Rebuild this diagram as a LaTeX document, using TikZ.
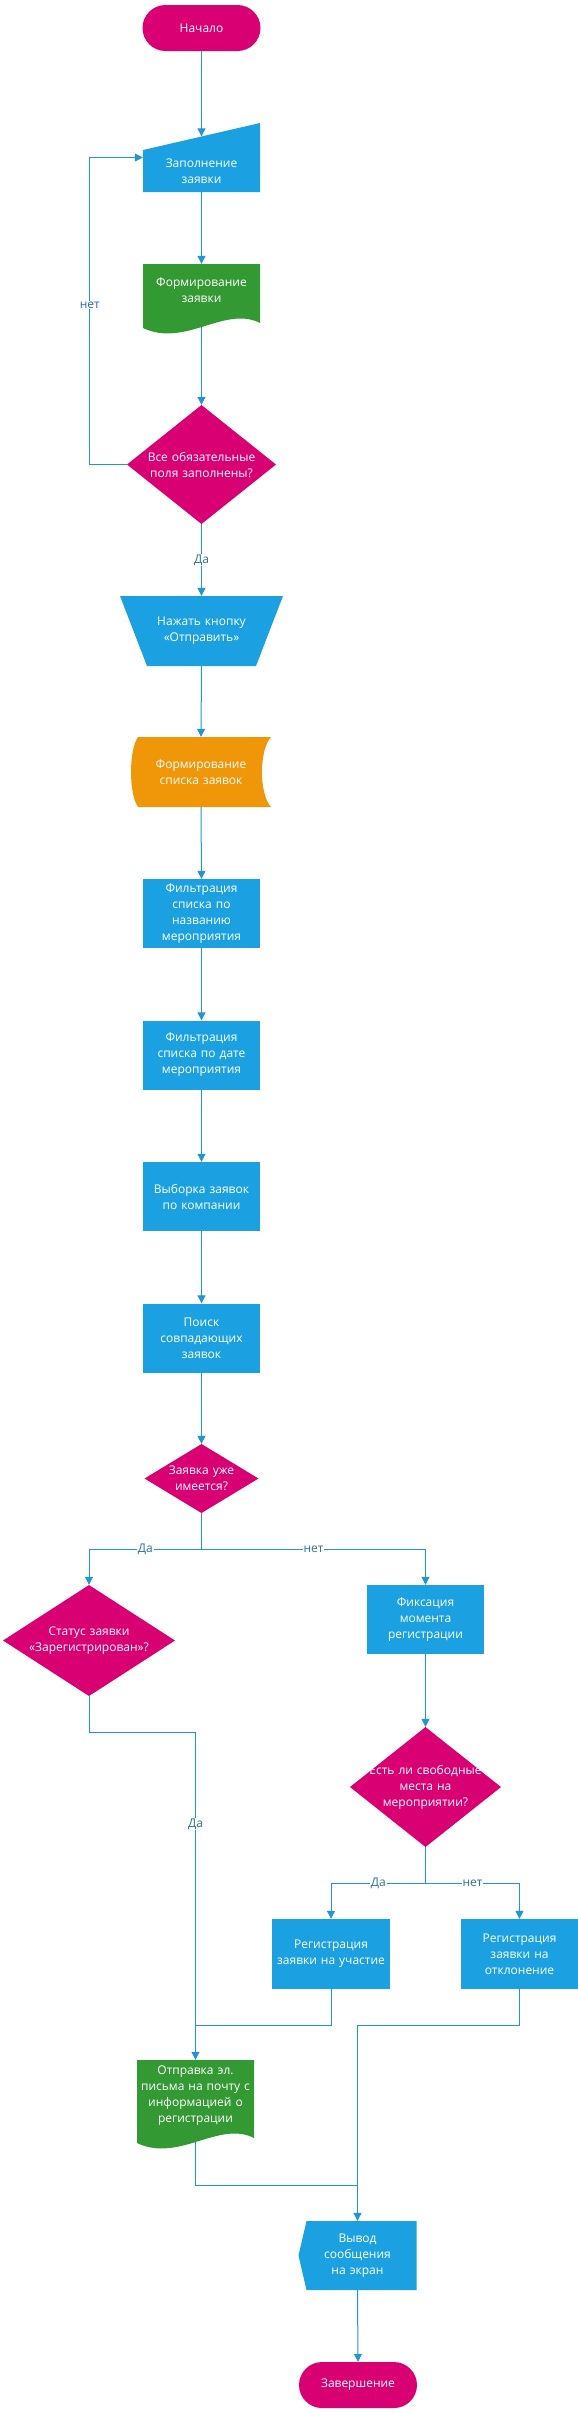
\documentclass[tikz,border=0pt]{standalone}
\usepackage{fontspec}
\setmainfont{Open Sans}
\usetikzlibrary{arrows.meta,calc}

\definecolor{cmag}{HTML}{D80073}
\definecolor{cblue}{HTML}{1BA1E2}
\definecolor{cgreen}{HTML}{339933}
\definecolor{corange}{HTML}{F09609}
\definecolor{cline}{HTML}{2196D3}
\definecolor{clabel}{HTML}{2C6FA8}

\tikzset{
  base/.style={rectangle, inner sep=0pt, text=white, align=center, font=\fontsize{12}{16}\selectfont},
  terminal/.style={base, fill=cmag, rounded corners=23pt, minimum width=118pt, minimum height=46pt, text width=118pt},
  proc/.style={base, fill=cblue, minimum width=117pt, minimum height=69pt, text width=117pt},
  decision/.style 2 args={base, minimum width=#1, minimum height=#2, text width=#1,
    path picture={\fill[cmag] (path picture bounding box.north) -- (path picture bounding box.east)
      -- (path picture bounding box.south) -- (path picture bounding box.west) -- cycle;}},
  manin/.style={base, minimum width=117pt, minimum height=69pt, text width=117pt,
    execute at begin node={\mbox{}\\[20pt]},
    path picture={\fill[cblue] (path picture bounding box.south west) -- (path picture bounding box.south east)
      -- (path picture bounding box.north east) -- ($(path picture bounding box.north west)+(0,27)$) -- cycle;}},
  manop/.style={base, minimum width=163pt, minimum height=70pt, text width=163pt,
    path picture={\fill[cblue] (path picture bounding box.north west) -- (path picture bounding box.north east)
      -- ($(path picture bounding box.south east)+(-27,0)$) -- ($(path picture bounding box.south west)+(27,0)$) -- cycle;}},
  stored/.style={base, minimum width=140pt, minimum height=70pt, text width=140pt,
    path picture={\fill[corange] ($(path picture bounding box.north west)+(7,0)$) -- (path picture bounding box.north east)
      .. controls ($(path picture bounding box.north east)+(-12,13)$) and ($(path picture bounding box.south east)+(-12,-13)$) .. (path picture bounding box.south east)
      -- ($(path picture bounding box.south west)+(7,0)$)
      .. controls ($(path picture bounding box.south west)+(-2.3,-13)$) and ($(path picture bounding box.north west)+(-2.3,13)$) .. ($(path picture bounding box.north west)+(7,0)$) -- cycle;}},
  docu/.style={base, minimum width=117pt, text width=117pt,
    execute at end node={\par\vspace*{17pt}},
    path picture={\fill[cgreen] (path picture bounding box.north west) -- (path picture bounding box.north east)
      -- ($(path picture bounding box.south east)+(0,-10)$)
      .. controls +(-35,-18) and ($(path picture bounding box.south west)+(42,15)$) .. ($(path picture bounding box.south west)+(0,-5)$) -- cycle;}},
  disp/.style={base, minimum width=118pt, minimum height=69pt, text width=118pt,
    path picture={\fill[cblue] (path picture bounding box.west) -- ($(path picture bounding box.north west)+(8,0)$)
      -- (path picture bounding box.north east) -- (path picture bounding box.south east) -- ($(path picture bounding box.south west)+(8,0)$) -- cycle;}},
  wire/.style={draw=cline, line width=1pt},
  flow/.style={wire, -{Triangle[length=8pt,width=8pt]}},
  lbl/.style={fill=white, text=clabel, font=\fontsize{12}{14}\selectfont, inner sep=1pt}
}

\begin{document}
\begin{tikzpicture}[x=1pt, y=-1pt]
  \useasboundingbox (0,0) rectangle (578,2413);

  % main column
  \node[terminal] (start) at (201.5,28) {Начало};
  \node[manin] (input) at (201.5,157.5) {Заполнение\\заявки};
  \node[docu, minimum height=69pt] (doc1) at (201.5,298.5) {Формирование\\заявки};
  \node[decision={149pt}{119pt}] (dia1) at (201.5,464.5) {Все обязательные\\поля заполнены?};
  \node[manop] (press) at (201.5,631) {Нажать кнопку\\«Отправить»};
  \node[stored] (list) at (201,772) {Формирование\\списка заявок};
  \node[proc] (filt1) at (201.5,913.5) {Фильтрация\\списка по\\названию\\мероприятия};
  \node[proc] (filt2) at (201.5,1055) {Фильтрация\\списка по дате\\мероприятия};
  \node[proc] (pick) at (201.5,1196.5) {Выборка заявок\\по компании};
  \node[proc] (search) at (201.5,1338) {Поиск\\совпадающих\\заявок};
  \node[decision={114pt}{69pt}] (dia2) at (201.5,1478.5) {Заявка уже\\имеется?};

  % branches
  \node[decision={172pt}{111pt}] (status) at (89,1640.5) {Статус заявки\\«Зарегистрирован»?};
  \node[proc] (fix) at (425.5,1619.5) {Фиксация\\момента\\регистрации};
  \node[decision={151pt}{120pt}] (dia3) at (425.5,1787) {Есть ли свободные\\места на\\мероприятии?};
  \node[proc, minimum width=118pt, text width=118pt, minimum height=70pt] (regyes) at (331,1954) {Регистрация\\заявки на участие};
  \node[proc, minimum height=70pt] (regno) at (519.5,1954) {Регистрация\\заявки на\\отклонение};
  \node[docu, minimum height=88pt] (mail) at (195.5,2104) {Отправка эл.\\письма на почту с\\информацией о\\регистрации};
  \node[disp] (screen) at (357.5,2255.5) {Вывод\\сообщения\\на экран};
  \node[terminal] (finish) at (358,2385) {Завершение};

  \coordinate (split1) at (201.5,1549);
  \coordinate (split2) at (425.5,1883);
  \coordinate (join1) at (195.5,2025);
  \coordinate (join2) at (357.5,2185);

  % connectors
  \draw[flow] (start.south) -- ($(input.north)+(0,13.5)$);
  \draw[flow] (input.south) -- (doc1.north);
  \draw[flow] ($(doc1.south)+(0,-6)$) -- (dia1.north);
  \draw[flow] (dia1.west) -- ++(-37,0) |- node[lbl, pos=.26] (no1) {нет} (input.west);
  \draw[flow] (dia1.south) -- node[lbl] (yes1) {Да} (press.north);
  \draw[flow] (press.south) -- (list.north);
  \draw[flow] (list.south) -- (filt1.north);
  \draw[flow] (filt1.south) -- (filt2.north);
  \draw[flow] (filt2.south) -- (pick.north);
  \draw[flow] (pick.south) -- (search.north);
  \draw[flow] (search.south) -- (dia2.north);
  \draw[wire] (dia2.south) -- (split1);
  \draw[flow] (split1) -| node[lbl, pos=.25] (yes2) {Да} (status.north);
  \draw[flow] (split1) -| node[lbl, pos=.25] (no2) {нет} (fix.north);
  \draw[flow] (status.south) -- ++(0,36) -| node[lbl, pos=.64] (yes3) {Да} (mail.north);
  \draw[flow] (fix.south) -- (dia3.north);
  \draw[wire] (dia3.south) -- (split2);
  \draw[flow] (split2) -| node[lbl, pos=.25] (yes4) {Да} (regyes.north);
  \draw[flow] (split2) -| node[lbl, pos=.25] (no4) {нет} (regno.north);
  \draw[wire] (regyes.south) |- (join1);
  \draw[flow] (regno.south) -- ++(0,36) -| (screen.north);
  \draw[wire] ($(mail.south)+(0,-6)$) |- (join2);
  \draw[flow] (screen.south) -- (finish.north);
\end{tikzpicture}
\end{document}
